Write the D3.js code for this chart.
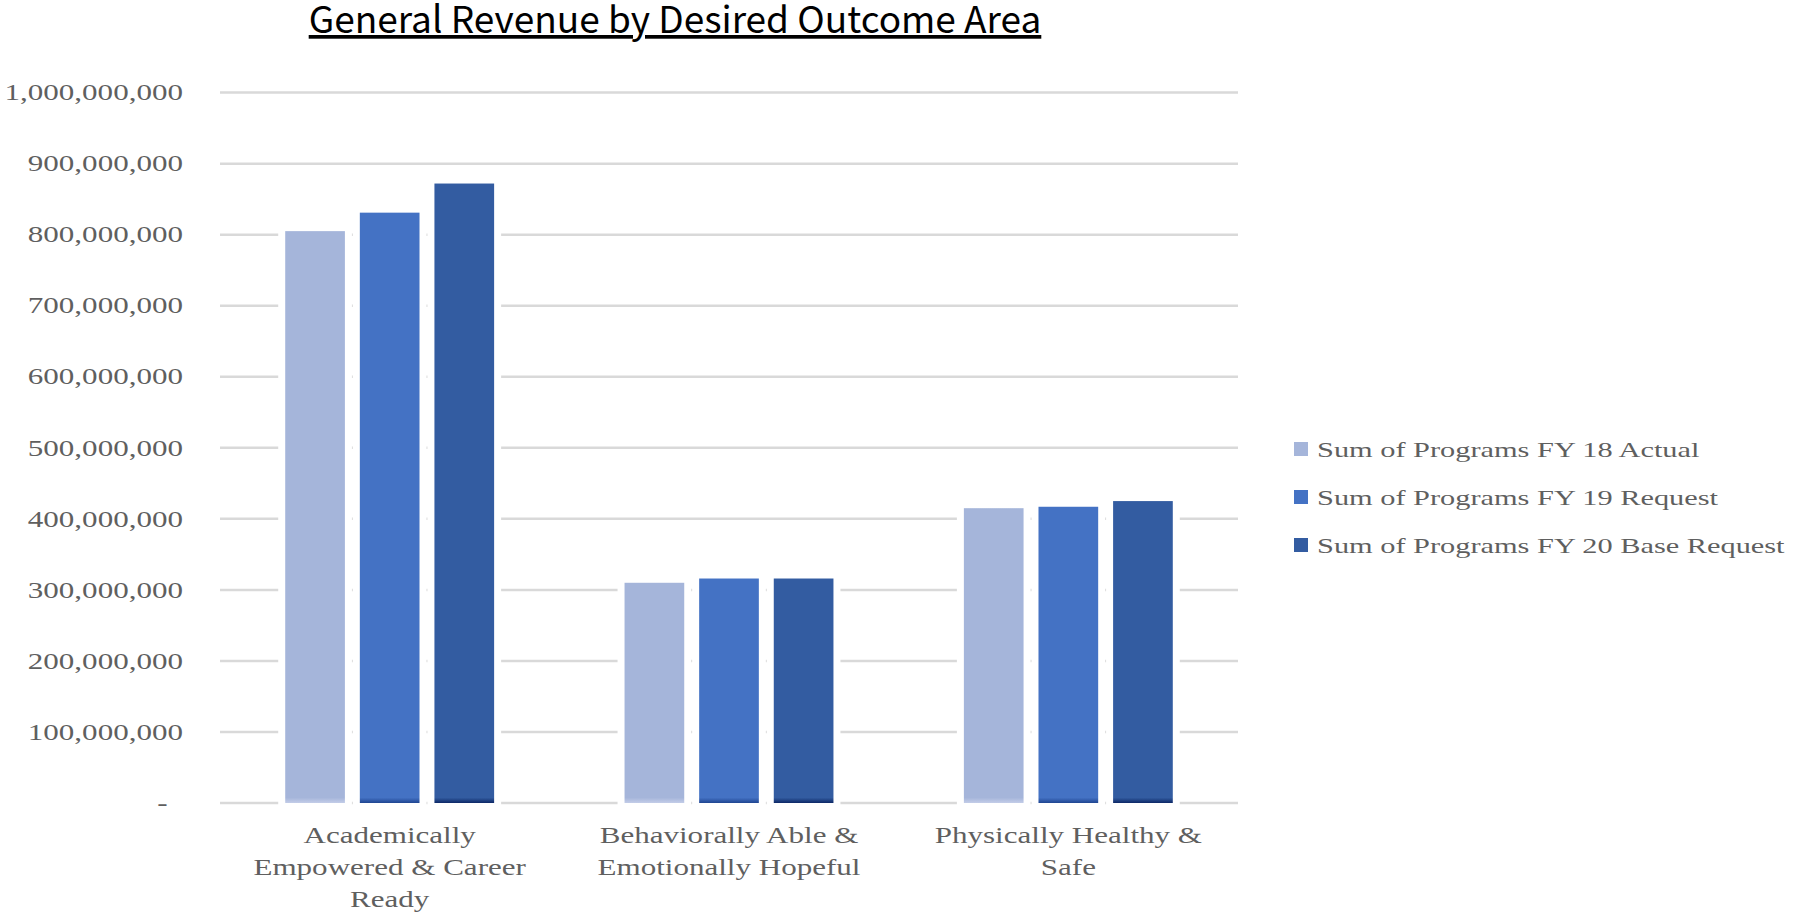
<!DOCTYPE html>
<html>
<head>
<meta charset="utf-8">
<script src="https://cdn.jsdelivr.net/npm/d3@7"></script>
<style>
  body { margin: 0; background: #fff; }
</style>
</head>
<body>
<script>
// data
const categories = ["Academically Empowered & Career Ready", "Behaviorally Able & Emotionally Hopeful", "Physically Healthy & Safe"]
const categoryLines = [["Academically", "Empowered & Career", "Ready"], ["Behaviorally Able &", "Emotionally Hopeful"], ["Physically Healthy &", "Safe"]]
const series = ["Sum of Programs FY 18 Actual", "Sum of Programs FY 19 Request", "Sum of Programs FY 20 Base Request"]
const fy18 = [805000000, 310000000, 415000000]
const fy19 = [831000000, 316000000, 417000000]
const fy20 = [872000000, 316000000, 425000000]
const yTicks = [0, 100000000, 200000000, 300000000, 400000000, 500000000, 600000000, 700000000, 800000000, 900000000, 1000000000]

const values = [fy18, fy19, fy20]
const colors = ["#a5b5da", "#4472c4", "#335ca1"]
const bottoms = ["#c3cde8", "#1f4591", "#0d2866"]

const w = 1814, h = 912
const left = 220, right = 1238
const stretch = 1.38   // text in the picture is drawn wide
const grey = "#5f5f5f"

const svg = d3.select("body")
  .append("svg")
  .attr("width", w)
  .attr("height", h)

const y = d3.scaleLinear()
  .domain([0, 1000000000])
  .range([803, 92.6])

const x0 = d3.scaleBand()
  .domain(categories)
  .range([left, right])
  .padding(0)

const x1 = d3.scaleBand()
  .domain(series)
  .range([0, x0.bandwidth()])
  .paddingInner(0.2)
  .paddingOuter(0.874)

// title
svg.append("text")
  .attr("x", 675)
  .attr("y", 33)
  .attr("text-anchor", "middle")
  .style("font-family", "'Noto Sans CJK JP', 'Noto Sans', sans-serif")
  .style("font-size", "37px")
  .style("text-decoration", "underline")
  .style("fill", "#000")
  .text("General Revenue by Desired Outcome Area")

// gridlines
svg.append("g")
  .selectAll("line")
  .data(yTicks)
  .enter()
  .append("line")
  .attr("x1", left)
  .attr("x2", right)
  .attr("y1", d => y(d))
  .attr("y2", d => y(d))
  .style("stroke", "#d9d9d9")
  .style("stroke-width", 2.5)

// y axis labels
const fmt = d3.format(",")
const yAxis = d3.axisLeft(y)
  .tickValues(yTicks)
  .tickSize(0)
  .tickPadding(0)
  .tickFormat(d => d === 0 ? "-\u00a0\u00a0" : fmt(d))

const yg = svg.append("g")
  .attr("transform", "translate(183, 0)")
  .call(yAxis)
yg.select(".domain").remove()
yg.selectAll("text")
  .attr("x", 0)
  .attr("transform", `scale(${stretch}, 1)`)
  .style("font-family", "'Liberation Serif', serif")
  .style("font-size", "22.5px")
  .style("fill", grey)

// gradients, dark strip at the base of each bar
const defs = svg.append("defs")
series.forEach((s, i) => {
  const g = defs.append("linearGradient")
    .attr("id", "grad" + i)
    .attr("gradientUnits", "userSpaceOnUse")
    .attr("x1", 0).attr("x2", 0)
    .attr("y1", y(0) - 12).attr("y2", y(0))
  g.append("stop").attr("offset", 0).attr("stop-color", colors[i])
  g.append("stop").attr("offset", 0.55).attr("stop-color", colors[i])
  g.append("stop").attr("offset", 1).attr("stop-color", bottoms[i])
})

const rows = []
categories.forEach((c, ci) => {
  series.forEach((s, si) => {
    rows.push({ cat: c, ser: s, si: si, value: values[si][ci] })
  })
})

const groups = svg.append("g")
  .selectAll("g")
  .data(rows)
  .enter()
  .append("g")
  .attr("transform", d => `translate(${x0(d.cat) + x1(d.ser)}, 0)`)

// white halo that breaks the gridlines round the bars
groups.append("rect")
  .attr("x", -7)
  .attr("width", x1.bandwidth() + 14)
  .attr("y", d => y(d.value) - 4)
  .attr("height", d => y(0) - y(d.value) + 7)
  .style("fill", "#fff")

groups.append("rect")
  .attr("x", 0)
  .attr("width", x1.bandwidth())
  .attr("y", d => y(d.value))
  .attr("height", d => y(0) - y(d.value))
  .style("fill", d => `url(#grad${d.si})`)

// category labels
const cats = svg.append("g")
  .selectAll("g")
  .data(categories)
  .enter()
  .append("g")
  .attr("transform", d => `translate(${x0(d) + x0.bandwidth() / 2}, 843)`)

cats.append("text")
  .attr("transform", `scale(${stretch}, 1)`)
  .attr("text-anchor", "middle")
  .style("font-family", "'Liberation Serif', serif")
  .style("font-size", "22.5px")
  .style("fill", grey)
  .selectAll("tspan")
  .data((d, i) => categoryLines[i])
  .enter()
  .append("tspan")
  .attr("x", 0)
  .attr("dy", (d, i) => i === 0 ? 0 : 32)
  .text(d => d)

// legend
const legend = svg.append("g")
  .attr("transform", "translate(1294, 449)")

const items = legend.selectAll("g")
  .data(series)
  .enter()
  .append("g")
  .attr("transform", (d, i) => `translate(0, ${i * 48})`)

items.append("rect")
  .attr("x", 0)
  .attr("y", -7)
  .attr("width", 14)
  .attr("height", 14)
  .style("fill", (d, i) => colors[i])

items.append("g")
  .attr("transform", "translate(23, 0)")
  .append("text")
  .attr("dy", "0.35em")
  .attr("transform", `scale(${stretch}, 1)`)
  .style("font-family", "'Liberation Serif', serif")
  .style("font-size", "22px")
  .style("fill", grey)
  .text(d => d)
</script>
</body>
</html>
